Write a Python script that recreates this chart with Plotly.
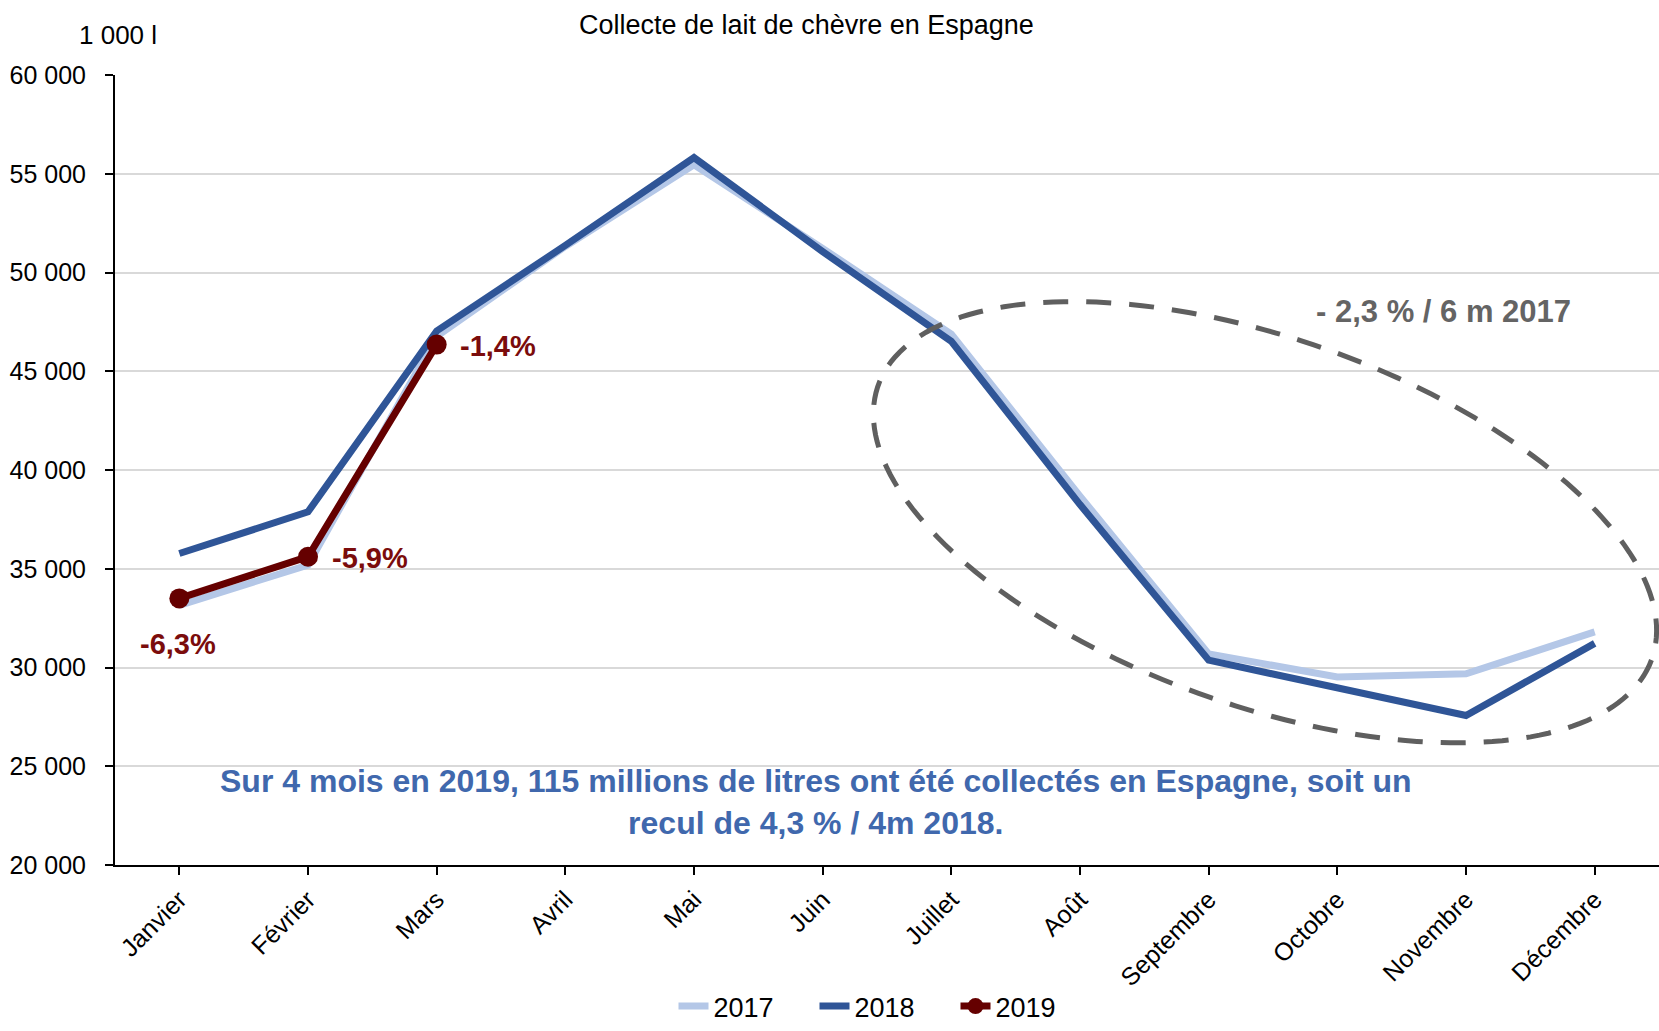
import numpy as np
import plotly.graph_objects as go

months = ["Janvier", "Février", "Mars", "Avril", "Mai", "Juin", "Juillet",
          "Août", "Septembre", "Octobre", "Novembre", "Décembre"]
v2017 = [33150, 35190, 46770, 51320, 55450, 51220, 46880, 38680, 30690, 29520, 29680, 31800]
v2018 = [35770, 37880, 47040, 51370, 55820, 51060, 46510, 38250, 30370, 29000, 27570, 31220]
v2019 = [33500, 35610, 46350]
labels2019 = ["-6,3%", "-5,9%", "-1,4%"]

W, H = 1659, 1031
L, R, T, B = 115, 0, 75, 154
PW, PH = W - L - R, H - T - B

def px(x):
    return (x - L) / PW

def py(y):
    return (H - B - y) / PH

fig = go.Figure()
fig.add_trace(go.Scatter(x=months, y=v2017, name="2017", mode="lines",
                         line=dict(color="#b4c7e7", width=7)))
fig.add_trace(go.Scatter(x=months, y=v2018, name="2018", mode="lines",
                         line=dict(color="#2f5597", width=7)))
fig.add_trace(go.Scatter(x=months[:3], y=v2019, name="2019", mode="lines+markers",
                         line=dict(color="#650000", width=7),
                         marker=dict(size=20, color="#650000")))

# ellipse (pixel geometry -> paper)
cx, cy, a, b, th = 1265, 529, 411, 186, np.radians(19.9)
t = np.linspace(0, 2 * np.pi, 200)
ex = cx + a * np.cos(t) * np.cos(th) - b * np.sin(t) * np.sin(th)
ey = cy + a * np.cos(t) * np.sin(th) + b * np.sin(t) * np.cos(th)
path = "M " + " L ".join(f"{px(x):.5f},{py(y):.5f}" for x, y in zip(ex, ey)) + " Z"
fig.add_shape(type="path", path=path, xref="paper", yref="paper",
              line=dict(color="#5f5f5f", width=5, dash="25px,18px"))

font = "Liberation Sans, Arial, sans-serif"
ann = [
    dict(text="Collecte de lait de chèvre en Espagne", x=px(806), y=py(24),
         font=dict(size=27, color="#000000")),
    dict(text="1 000 l", x=px(118), y=py(34), font=dict(size=26, color="#000000")),
    dict(text="<b>Sur 4 mois en 2019, 115 millions de litres ont été collectés en Espagne, soit un<br>recul de 4,3 % / 4m 2018.</b>",
         x=px(816), y=py(813), font=dict(size=32, color="#4068ad")),
    dict(text="<b>" + labels2019[0] + "</b>", x=px(178), y=py(653), font=dict(size=29, color="#7b0c0c")),
    dict(text="<b>" + labels2019[1] + "</b>", x=px(370), y=py(565), font=dict(size=29, color="#7b0c0c")),
    dict(text="<b>" + labels2019[2] + "</b>", x=px(498), y=py(350), font=dict(size=29, color="#7b0c0c")),
    dict(text="<b>- 2,3 % / 6 m 2017</b>", x=px(1443), y=py(315), font=dict(size=31, color="#646464")),
]
for an in ann:
    fig.add_annotation(xref="paper", yref="paper", showarrow=False,
                       xanchor="center", yanchor="middle", **an)

fig.update_layout(
    width=W, height=H,
    margin=dict(l=L, r=R, t=T, b=B),
    paper_bgcolor="white", plot_bgcolor="white",
    font=dict(family=font, size=25, color="#000000"),
    separators=", ",
    showlegend=True,
    legend=dict(orientation="h", x=px(885), xanchor="center", y=py(1021), yanchor="middle",
                font=dict(size=27), tracegroupgap=0, entrywidth=96, entrywidthmode="pixels"),
)
fig.update_xaxes(range=[-0.5, 11.5], showline=True, linecolor="#000000", linewidth=2,
                 ticks="outside", ticklen=8, tickcolor="#000000", tickwidth=2,
                 tickangle=-45, showgrid=False, tickfont=dict(size=25))
fig.update_yaxes(range=[20000, 60000], dtick=5000, tickformat=",",
                 showline=True, linecolor="#000000", linewidth=2,
                 ticks="outside", ticklen=8, tickcolor="#000000", tickwidth=2,
                 ticklabelstandoff=14,
                 showgrid=True, gridcolor="#d9d9d9", gridwidth=2,
                 tickfont=dict(size=25), zeroline=False)

fig.write_html("out.html", config={"displayModeBar": False},
               post_script="document.body.style.margin='0px';document.body.style.overflow='hidden';")
